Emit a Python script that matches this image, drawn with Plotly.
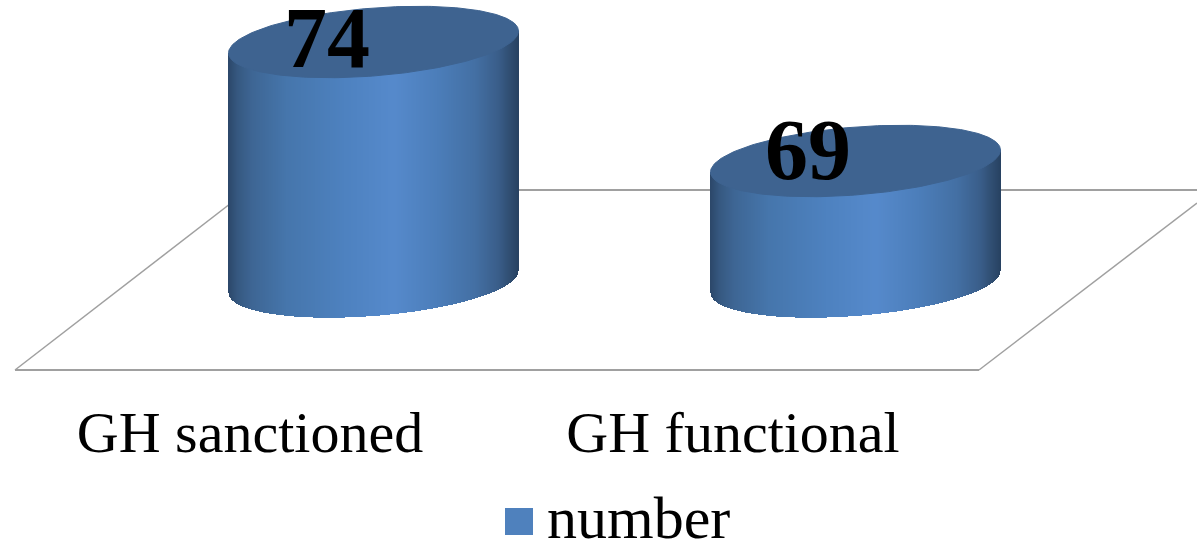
import numpy as np
import plotly.graph_objects as go

# ---- data ----
categories = ["GH sanctioned", "GH functional"]
values = [74, 69]
series_name = "number"

# ---- scale: value <-> picture ----
W, H = 1197, 541
AXIS_PX = 376            # bottom of plot area
PX_PER_UNIT = 23.8
V_REF, P_REF = 69, 161   # value 69 sits at pixel row 161


def val(px):
    return V_REF + (P_REF - px) / PX_PER_UNIT


def span(px):
    return px / PX_PER_UNIT


BASE_VALUE = val(282)
BAR_CENTERS = [373.5, 855.5]
LABEL_X = [250, 733]
TEXT_X = [327, 808]
TEXT_OFFSET_PX = [3, -4]
HALF_W = 145
SHEAR = 11
ELL_B = 34

STOPS_POS = [0, 0.03, 0.08, 0.2, 0.4, 0.57, 0.72, 0.85, 0.93, 0.97, 1]
STOPS_RGB = [
    (44, 72, 106), (54, 88, 128), (62, 102, 148), (70, 118, 172), (78, 130, 192),
    (86, 138, 204), (76, 126, 186), (68, 112, 164), (58, 94, 138), (48, 78, 114), (40, 66, 98),
]
TOP_COLOR = "#3E6390"
SWATCH = "#4F81BD"
FLOOR = "#A0A0A0"


def shade(f):
    return "rgb(%d,%d,%d)" % tuple(
        int(np.interp(f, STOPS_POS, [c[i] for c in STOPS_RGB])) for i in range(3)
    )


fig = go.Figure()

for name, v, cx in zip(categories, values, BAR_CENTERS):
    xs = np.arange(cx - HALF_W, cx + HALF_W + 0.5, 1.0)
    u = np.clip((xs - cx) / HALF_W, -1, 1)
    bottom = BASE_VALUE + span(SHEAR * u - ELL_B * np.sqrt(1 - u ** 2))
    top = v + span(SHEAR * u)
    fig.add_trace(go.Bar(
        x=xs, y=top - bottom, base=bottom, width=1.0,
        marker=dict(color=[shade((a + 1) / 2) for a in u], line=dict(width=0)),
        showlegend=False, name=name, hoverinfo="skip",
    ))
    t = np.linspace(0, 2 * np.pi, 240)
    fig.add_trace(go.Scatter(
        x=cx + HALF_W * np.cos(t),
        y=v + span(SHEAR * np.cos(t) + ELL_B * np.sin(t)),
        mode="lines", fill="toself", fillcolor=TOP_COLOR,
        line=dict(color=TOP_COLOR, width=1), showlegend=False, hoverinfo="skip",
    ))

fig.add_trace(go.Scatter(
    x=TEXT_X,
    y=[v - span(o) for v, o in zip(values, TEXT_OFFSET_PX)],
    mode="text", text=[str(v) for v in values], textposition="middle center",
    textfont=dict(family="Liberation Serif", size=86, color="#000000"),
    texttemplate="<b>%{text}</b>", showlegend=False, hoverinfo="skip",
))

# floor of the 3-D plot, behind the cylinders
floor = dict(type="line", xref="x", yref="y", layer="below")
thick = dict(color=FLOOR, width=2)
thin = dict(color=FLOOR, width=1.5)
fig.add_shape(x0=15, x1=979, y0=val(370), y1=val(370), line=thick, **floor)
fig.add_shape(x0=15, x1=248, y0=val(370), y1=val(190), line=thin, **floor)
fig.add_shape(x0=979, x1=1197, y0=val(370), y1=val(203), line=thin, **floor)
fig.add_shape(x0=248, x1=1197, y0=val(190), y1=val(190), line=thick, **floor)

# legend
fig.add_shape(type="rect", xref="paper", yref="paper", x0=505 / W, x1=533 / W,
              y0=(AXIS_PX - 535) / AXIS_PX, y1=(AXIS_PX - 508) / AXIS_PX,
              fillcolor=SWATCH, line=dict(width=0))
fig.add_annotation(text=series_name, xref="paper", yref="paper", x=545 / W,
                   y=(AXIS_PX - 518) / AXIS_PX, xanchor="left", yanchor="middle",
                   showarrow=False,
                   font=dict(family="Liberation Serif", size=60, color="#000000"))

fig.update_layout(
    width=W, height=H, autosize=False,
    margin=dict(l=0, r=0, t=0, b=H - AXIS_PX, pad=0),
    paper_bgcolor="#FFFFFF", plot_bgcolor="rgba(0,0,0,0)",
    barmode="overlay", bargap=0, showlegend=False,
    xaxis=dict(range=[0, W], tickmode="array", tickvals=LABEL_X, ticktext=categories,
               showgrid=False, zeroline=False, showline=False, ticks="outside",
               ticklen=5, tickcolor="rgba(0,0,0,0)",
               tickfont=dict(family="Liberation Serif", size=58, color="#000000")),
    yaxis=dict(range=[val(AXIS_PX), val(0)], visible=False),
)

fig.write_html("out.html", config={"displayModeBar": False},
               post_script="document.body.style.margin='0';document.body.style.overflow='hidden';")
